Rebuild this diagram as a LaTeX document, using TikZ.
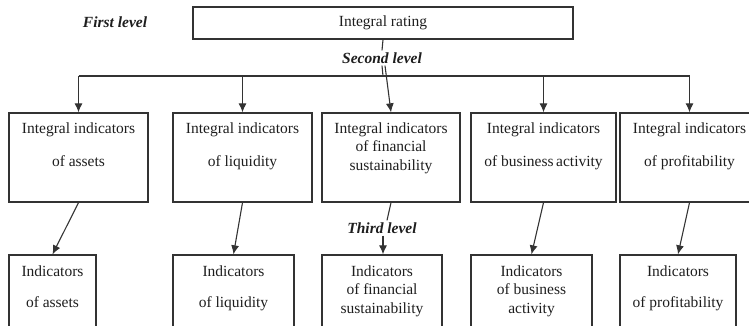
\documentclass[tikz,border=0pt]{standalone}
\usepackage{fontspec}
\setmainfont{Liberation Serif}
\usetikzlibrary{positioning,arrows.meta}
\definecolor{linegray}{HTML}{333333}
\definecolor{textgray}{HTML}{1E1E1E}

\tikzset{
  every node/.style={font=\fontsize{15.5}{18.5}\selectfont, text=textgray},
  box/.style={draw=linegray, line width=1.3pt, inner sep=0pt, minimum height=89pt},
  lowbox/.style={draw=linegray, line width=1.3pt, inner sep=0pt, minimum height=110pt},
  txt/.style={align=center, inner sep=0pt},
  lvl/.style={font=\fontsize{15.5}{18.5}\selectfont\bfseries\itshape, inner sep=2pt},
  wire/.style={draw=linegray, line width=1.1pt},
  arr/.style={wire, -{Latex[length=9pt,width=8pt]}},
}

\begin{document}
\begin{tikzpicture}[x=1pt, y=-1pt]
  \useasboundingbox (0,0) rectangle (749,326);
  \clip (0,0) rectangle (749,326);

  % first level
  \node[draw=linegray, line width=1.3pt, minimum width=380pt, minimum height=32pt, inner sep=0pt]
        (rating) at (383,23) {Integral rating};
  \node[lvl] (first) at (115,22) {First level};
  \node[lvl] (second) at (382,58) {Second level};
  \coordinate (split) at (383,76);

  % second level
  \node[box, minimum width=139pt] (ia1) at (78.5,157.5) {};
  \node[box, minimum width=139pt] (ia2) at (242.5,157.5) {};
  \node[box, minimum width=138pt] (ia3) at (391,157.5) {};
  \node[box, minimum width=145pt] (ia4) at (543.5,157.5) {};
  \node[box, minimum width=139pt] (ia5) at (689.5,157.5) {};

  \node[txt, below=10pt of ia1.north] (tia1) {Integral indicators\\[14.5pt]of assets};
  \node[txt, below=10pt of ia2.north] (tia2) {Integral indicators\\[14.5pt]of liquidity};
  \node[txt, below=10pt of ia3.north] (tia3) {Integral indicators\\of financial\\sustainability};
  \node[txt, below=10pt of ia4.north] (tia4) {Integral indicators\\[14.5pt]of business\,activity};
  \node[txt, below=10pt of ia5.north] (tia5) {Integral indicators\\[14.5pt]of profitability};

  % third level
  \node[lvl] (third) at (382,228) {Third level};
  \node[lowbox, minimum width=87pt]  (ind1) at (52.5,310) {};
  \node[lowbox, minimum width=121pt] (ind2) at (233.5,310) {};
  \node[lowbox, minimum width=120pt] (ind3) at (382,310) {};
  \node[lowbox, minimum width=121pt] (ind4) at (531.5,310) {};
  \node[lowbox, minimum width=116pt] (ind5) at (678,310) {};

  \node[txt, below=11pt of ind1.north] (tind1) {Indicators\\[12.5pt]of assets};
  \node[txt, below=11pt of ind2.north] (tind2) {Indicators\\[12.5pt]of liquidity};
  \node[txt, below=11pt of ind3.north] (tind3) {Indicators\\of financial\\sustainability};
  \node[txt, below=11pt of ind4.north] (tind4) {Indicators\\of business\\activity};
  \node[txt, below=11pt of ind5.north] (tind5) {Indicators\\[12.5pt]of profitability};

  % connectors
  \draw[wire] (rating.south) -- (second.north);
  \draw[wire] (second.south) -- (split);
  \draw[wire] (ia1.north |- split) -- (ia5.north |- split);
  \foreach \i in {1,2,4,5}
    \draw[arr] (ia\i.north |- split) -- (ia\i.north);
  \draw[arr] ([xshift=3pt]second.south) -- (ia3.north);

  \foreach \i in {1,2,4,5}
    \draw[arr] (ia\i.south) -- (ind\i.north);
  \draw[wire] (ia3.south) -- ([xshift=5pt]third.north);
  \draw[arr] ([xshift=1pt]third.south) -- ([xshift=1pt]ind3.north);
\end{tikzpicture}
\end{document}
